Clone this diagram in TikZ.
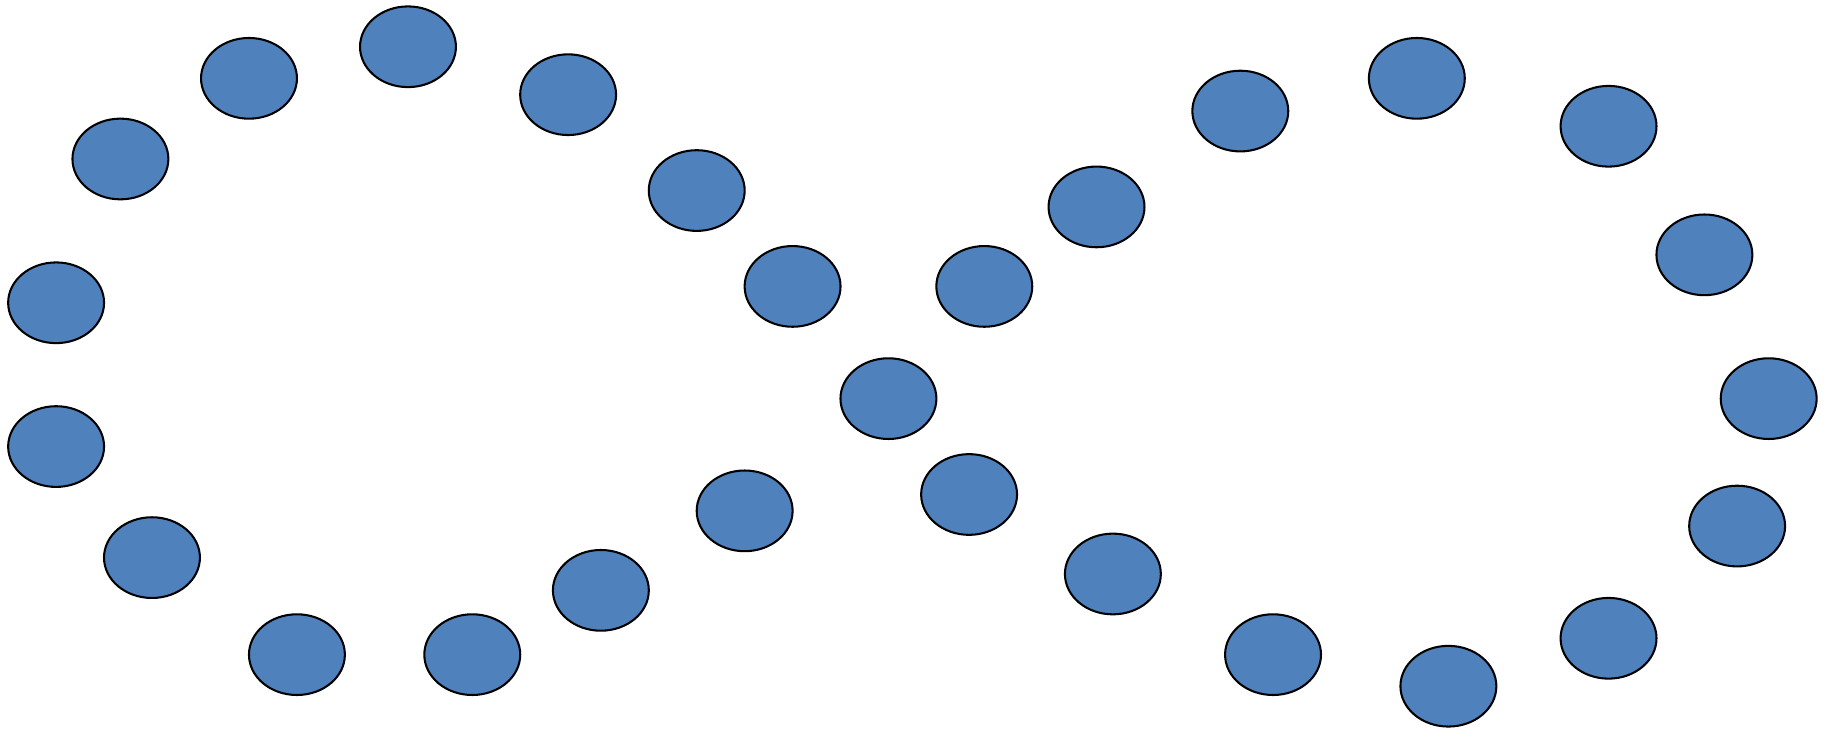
\documentclass[tikz,border=0pt]{standalone}
\usetikzlibrary{shapes.geometric}
\definecolor{dotblue}{RGB}{79,129,189}
\tikzset{dot/.style={ellipse, draw=black, fill=dotblue, line width=0.5pt, minimum width=0.82cm, minimum height=0.69cm, inner sep=0pt}}
\begin{document}
\begin{tikzpicture}[x=0.01cm, y=-0.01cm]
\useasboundingbox (0,0) rectangle (1568,624);
\node[dot] (d1) at (349,40) {};
\node[dot] (d2) at (213,67) {};
\node[dot] (d3) at (103,136) {};
\node[dot] (d4) at (48,259) {};
\node[dot] (d5) at (48,382) {};
\node[dot] (d6) at (130,477) {};
\node[dot] (d7) at (254,560) {};
\node[dot] (d8) at (404,560) {};
\node[dot] (d9) at (514,505) {};
\node[dot] (d10) at (637,437) {};
\node[dot] (d11) at (760,341) {};
\node[dot] (d12) at (678,245) {};
\node[dot] (d13) at (596,163) {};
\node[dot] (d14) at (486,81) {};
\node[dot] (d15) at (842,245) {};
\node[dot] (d16) at (938,177) {};
\node[dot] (d17) at (1061,95) {};
\node[dot] (d18) at (1212,67) {};
\node[dot] (d19) at (1376,108) {};
\node[dot] (d20) at (1458,218) {};
\node[dot] (d21) at (1513,341) {};
\node[dot] (d22) at (1486,450) {};
\node[dot] (d23) at (1376,546) {};
\node[dot] (d24) at (1239,587) {};
\node[dot] (d25) at (1089,560) {};
\node[dot] (d26) at (952,491) {};
\node[dot] (d27) at (829,423) {};
\end{tikzpicture}
\end{document}
